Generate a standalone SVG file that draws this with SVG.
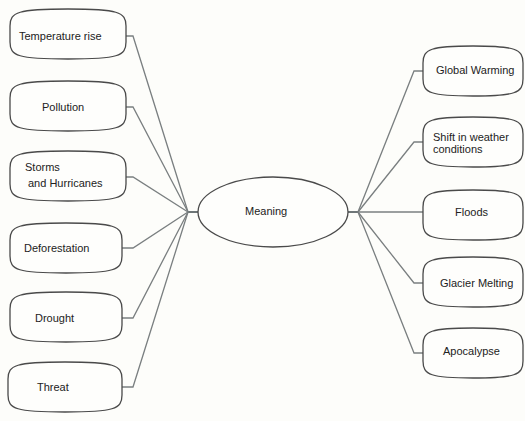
<svg xmlns="http://www.w3.org/2000/svg" width="525" height="421" viewBox="0 0 525 421">
<defs>
<style>
.box{fill:#fefefc;stroke:#4a4a4a;stroke-width:1.3}
.c{fill:none;stroke:#7a7f80;stroke-width:1.3}
.hub{fill:none;stroke:#3f4a4c;stroke-width:1.6}
text{font-family:"Liberation Sans",Arial,sans-serif;font-size:11px;fill:#222}
</style>
</defs>
<rect width="525" height="421" fill="#fdfdfa"/>
<g id="connectors">
<path class="hub" d="M188 212 H198 M348 212 H358"/>
<path class="c" d="M126 36 H133 L188 212"/>
<path class="c" d="M126 107 H133 L188 212"/>
<path class="c" d="M126 177 H133 L188 212"/>
<path class="c" d="M122 248 H133 L188 212"/>
<path class="c" d="M122 318 H133 L188 212"/>
<path class="c" d="M122 387 H133 L188 212"/>
<path class="c" d="M358 212 L414 71 H423"/>
<path class="c" d="M358 212 L414 142 H423"/>
<path class="c" d="M358 212 H423"/>
<path class="c" d="M358 212 L414 283 H423"/>
<path class="c" d="M358 212 L414 353 H423"/>
</g>
<g id="n-temperature">
<path class="box" d="M10 26 C10 12 18 9 68 9 C118 9 126 12 126 26 V42 C126 56 118 59 68 59 C18 59 10 56 10 42 Z"/>
<text x="19" y="40">Temperature rise</text>
</g>
<g id="n-pollution">
<path class="box" d="M10 98 C10 84 18 81 68 81 C118 81 126 84 126 98 V114 C126 128 118 131 68 131 C18 131 10 128 10 114 Z"/>
<text x="42" y="111">Pollution</text>
</g>
<g id="n-storms">
<path class="box" d="M10 168 C10 154 18 151 68 151 C118 151 126 154 126 168 V184 C126 198 118 201 68 201 C18 201 10 198 10 184 Z"/>
<text x="25" y="171">Storms</text>
<text x="28" y="187">and Hurricanes</text>
</g>
<g id="n-deforestation">
<path class="box" d="M10 240 C10 226 18 223 66 223 C114 223 122 226 122 240 V256 C122 270 114 273 66 273 C18 273 10 270 10 256 Z"/>
<text x="24" y="252">Deforestation</text>
</g>
<g id="n-drought">
<path class="box" d="M10 309 C10 295 18 292 66 292 C114 292 122 295 122 309 V325 C122 339 114 342 66 342 C18 342 10 339 10 325 Z"/>
<text x="35" y="322">Drought</text>
</g>
<g id="n-threat">
<path class="box" d="M8 379 C8 365 16 362 65 362 C114 362 122 365 122 379 V395 C122 409 114 412 65 412 C16 412 8 409 8 395 Z"/>
<text x="37" y="391">Threat</text>
</g>
<g id="n-meaning">
<ellipse class="box" cx="273" cy="212" rx="75" ry="35"/>
<text x="245" y="215">Meaning</text>
</g>
<g id="n-global">
<path class="box" d="M423 63 C423 49 431 46 473 46 C515 46 523 49 523 63 V79 C523 93 515 96 473 96 C431 96 423 93 423 79 Z"/>
<text x="436" y="74">Global Warming</text>
</g>
<g id="n-shift">
<path class="box" d="M423 134 C423 120 431 117 473 117 C515 117 523 120 523 134 V150 C523 164 515 167 473 167 C431 167 423 164 423 150 Z"/>
<text x="433" y="141">Shift in weather</text>
<text x="433" y="153">conditions</text>
</g>
<g id="n-floods">
<path class="box" d="M423 207 C423 193 431 190 473 190 C515 190 523 193 523 207 V223 C523 237 515 240 473 240 C431 240 423 237 423 223 Z"/>
<text x="455" y="216">Floods</text>
</g>
<g id="n-glacier">
<path class="box" d="M423 274 C423 260 431 257 473 257 C515 257 523 260 523 274 V290 C523 304 515 307 473 307 C431 307 423 304 423 290 Z"/>
<text x="440" y="287">Glacier Melting</text>
</g>
<g id="n-apocalypse">
<path class="box" d="M423 345 C423 331 431 328 473 328 C515 328 523 331 523 345 V361 C523 375 515 378 473 378 C431 378 423 375 423 361 Z"/>
<text x="443" y="355">Apocalypse</text>
</g>
</svg>
